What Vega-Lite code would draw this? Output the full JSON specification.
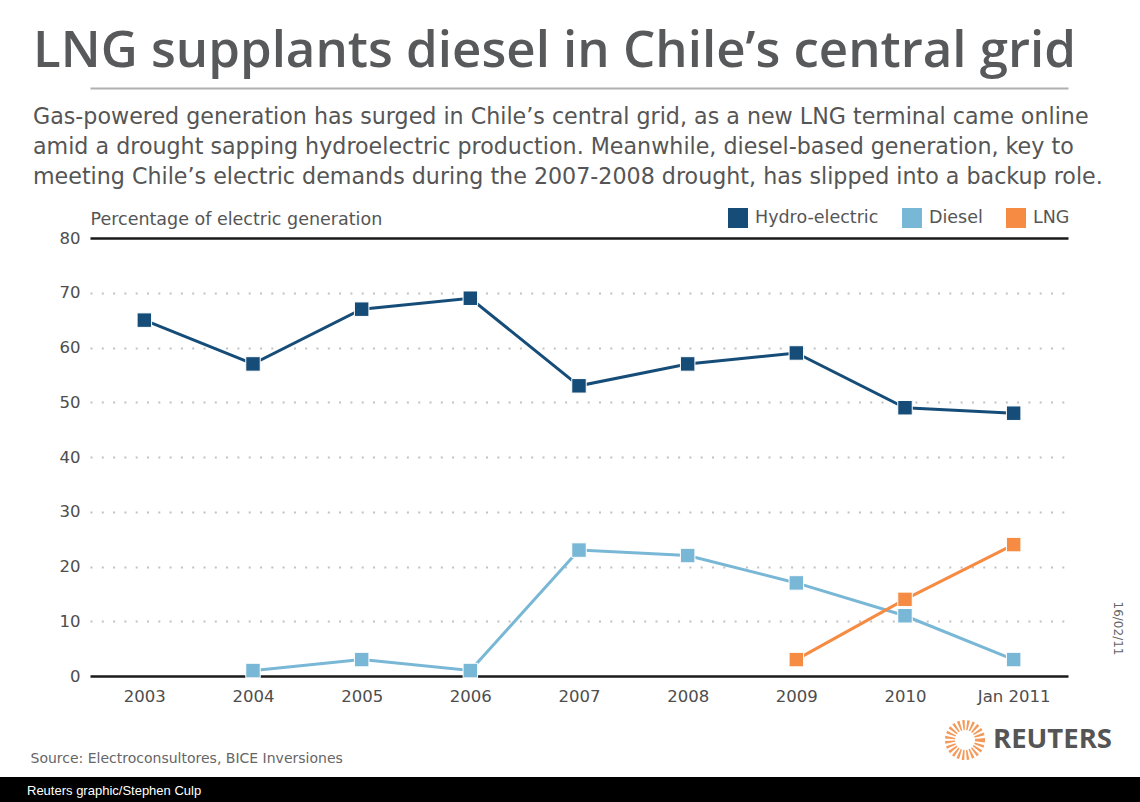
{
  "$schema": "https://vega.github.io/schema/vega-lite/v6.json",
  "autosize": "none",
  "width": 978,
  "height": 438,
  "padding": {"left": 90, "top": 238, "right": 72, "bottom": 126},
  "background": "white",
  "config": {
    "font": "DejaVu Sans",
    "view": {"stroke": null}
  },
  "title": {
    "text": "LNG supplants diesel in Chile’s central grid",
    "subtitle": [
      "Gas-powered generation has surged in Chile’s central grid, as a new LNG terminal came online",
      "amid a drought sapping hydroelectric production. Meanwhile, diesel-based generation, key to",
      "meeting Chile’s electric demands during the 2007-2008 drought, has slipped into a backup role."
    ],
    "anchor": "start",
    "frame": "group",
    "dx": -57,
    "offset": -101,
    "font": "Open Sans",
    "fontSize": 51,
    "fontWeight": 600,
    "color": "#58595b",
    "subtitleFont": "DejaVu Sans",
    "subtitleFontSize": 22.2,
    "subtitleColor": "#555555",
    "subtitleLineHeight": 30,
    "subtitlePadding": 28
  },
  "data": {
    "values": [
      {"year": "2003", "series": "Hydro-electric", "share": 65},
      {"year": "2004", "series": "Hydro-electric", "share": 57},
      {"year": "2005", "series": "Hydro-electric", "share": 67},
      {"year": "2006", "series": "Hydro-electric", "share": 69},
      {"year": "2007", "series": "Hydro-electric", "share": 53},
      {"year": "2008", "series": "Hydro-electric", "share": 57},
      {"year": "2009", "series": "Hydro-electric", "share": 59},
      {"year": "2010", "series": "Hydro-electric", "share": 49},
      {"year": "Jan 2011", "series": "Hydro-electric", "share": 48},
      {"year": "2004", "series": "Diesel", "share": 1},
      {"year": "2005", "series": "Diesel", "share": 3},
      {"year": "2006", "series": "Diesel", "share": 1},
      {"year": "2007", "series": "Diesel", "share": 23},
      {"year": "2008", "series": "Diesel", "share": 22},
      {"year": "2009", "series": "Diesel", "share": 17},
      {"year": "2010", "series": "Diesel", "share": 11},
      {"year": "Jan 2011", "series": "Diesel", "share": 3},
      {"year": "2009", "series": "LNG", "share": 3},
      {"year": "2010", "series": "LNG", "share": 14},
      {"year": "Jan 2011", "series": "LNG", "share": 24}
    ]
  },
  "layer": [
    {
      "mark": {"type": "line", "strokeWidth": 3},
      "encoding": {
        "x": {
          "field": "year", "type": "ordinal",
          "scale": {"type": "point", "padding": 0.5,
                    "domain": ["2003", "2004", "2005", "2006", "2007", "2008", "2009", "2010", "Jan 2011"]},
          "axis": {
            "orient": "bottom", "labelAngle": 0, "labelFontSize": 16.5, "labelColor": "#4d4d4d",
            "labelPadding": 12, "ticks": false, "domain": false, "grid": false,
            "title": "Source: Electroconsultores, BICE Inversiones",
            "titleX": -60, "titleY": 86, "titleAlign": "left", "titleBaseline": "alphabetic",
            "titleFontSize": 14, "titleFontWeight": "normal", "titleColor": "#666666"
          }
        },
        "y": {
          "field": "share", "type": "quantitative",
          "scale": {"domain": [0, 80], "nice": false},
          "axis": {
            "orient": "left", "values": [0, 10, 20, 30, 40, 50, 60, 70, 80],
            "labelFontSize": 16.5, "labelColor": "#4d4d4d", "labelPadding": 10,
            "ticks": false, "domain": false, "grid": true,
            "gridColor": {"condition": {"test": "datum.value === 0 || datum.value === 80", "value": "#1a1a1a"}, "value": "#c2c2c2"},
            "gridDash": {"condition": {"test": "datum.value === 0 || datum.value === 80", "value": []}, "value": [2, 9.3]},
            "gridWidth": {"condition": {"test": "datum.value === 0 || datum.value === 80", "value": 2.5}, "value": 2},
            "title": "Percentage of electric generation",
            "titleAngle": 0, "titleX": 0, "titleY": -14, "titleAlign": "left", "titleBaseline": "alphabetic",
            "titleFontSize": 17.5, "titleFontWeight": "normal", "titleColor": "#555555"
          }
        },
        "color": {
          "field": "series", "type": "nominal",
          "scale": {"domain": ["Hydro-electric", "Diesel", "LNG"], "range": ["#164d78", "#79b7d6", "#f68b43"]},
          "legend": {
            "orient": "none", "legendX": 638, "legendY": -30, "direction": "horizontal",
            "title": null, "padding": 0, "symbolType": "square", "symbolSize": 400,
            "symbolStrokeWidth": 0, "symbolOpacity": 1,
            "labelFontSize": 17.5, "labelColor": "#555555", "labelOffset": 7, "columnPadding": 23,
            "encode": {"symbols": {"update": {"fill": {"scale": "color", "field": "value"}, "stroke": {"value": "transparent"}}}}
          }
        },
        "detail": {"field": "series"}
      }
    },
    {
      "mark": {"type": "square", "size": 210, "filled": true, "opacity": 1, "stroke": "white", "strokeWidth": 1},
      "encoding": {
        "x": {"field": "year", "type": "ordinal", "axis": null},
        "y": {"field": "share", "type": "quantitative", "axis": null},
        "color": {"field": "series", "type": "nominal"}
      }
    },
    {
      "mark": {"type": "point", "opacity": 0},
      "encoding": {
        "x": {
          "field": "year", "type": "ordinal",
          "axis": {"orient": "top", "offset": 150, "labels": false, "ticks": false, "grid": false,
                   "domain": true, "domainColor": "#b0b0b0", "domainWidth": 2, "title": null}
        },
        "y": {
          "field": "share", "type": "quantitative",
          "axis": {"orient": "right", "labels": false, "ticks": false, "grid": false, "domain": false,
                   "title": "16/02/11", "titleAngle": 90, "titleX": 49, "titleY": 390,
                   "titleAlign": "center", "titleBaseline": "middle",
                   "titleFontSize": 12, "titleFontWeight": "normal", "titleColor": "#666666"}
        }
      }
    },
    {
      "data": {"values": [{"brand": "REUTERS"}]},
      "mark": {"type": "point", "opacity": 0},
      "encoding": {
        "shape": {
          "field": "brand", "type": "nominal",
          "scale": {"range": ["circle"]},
          "legend": {
            "orient": "none", "legendX": 855, "legendY": 482, "title": null, "padding": 0,
            "symbolType": "circle", "symbolSize": 900, "symbolOpacity": 1,
            "symbolFillColor": "white", "symbolStrokeColor": "#f39a5a", "symbolStrokeWidth": 10,
            "symbolDash": [2, 2],
            "labelFont": "Open Sans", "labelFontSize": 27.5, "labelFontWeight": "bold",
            "labelColor": "#555555", "labelOffset": 8
          }
        }
      }
    },
    {
      "data": {"values": [{"credit": "Reuters graphic/Stephen Culp"}]},
      "mark": {"type": "point", "opacity": 0},
      "encoding": {
        "strokeDash": {
          "field": "credit", "type": "nominal",
          "legend": {
            "orient": "none", "legendX": -90, "legendY": 539,
            "title": " ", "titleOrient": "right", "titlePadding": 940,
            "titleFontSize": 13, "titleColor": "black",
            "fillColor": "black", "padding": 7,
            "symbolSize": 0, "symbolOpacity": 0, "symbolStrokeWidth": 0,
            "labelColor": "white", "labelFont": "Liberation Sans", "labelFontSize": 13,
            "labelOffset": 7, "labelLimit": 400
          }
        }
      }
    }
  ],
  "resolve": {
    "axis": {"x": "independent", "y": "independent"}
  }
}
